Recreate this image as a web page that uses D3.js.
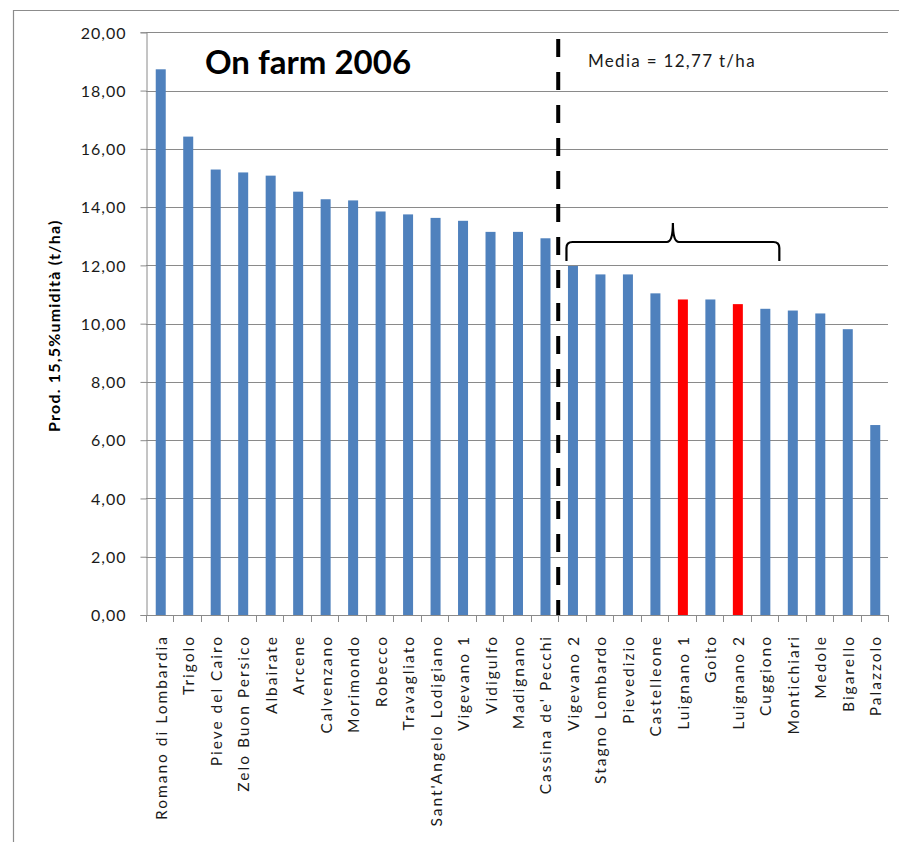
<!DOCTYPE html>
<html><head><meta charset="utf-8">
<script src="https://cdn.jsdelivr.net/npm/d3@7"></script>
<style>body{margin:0;background:#fff}svg{display:block}</style>
</head><body>
<script>
const categories = ["Romano di Lombardia","Trigolo","Pieve del Cairo","Zelo Buon Persico","Albairate","Arcene","Calvenzano","Morimondo","Robecco","Travagliato","Sant'Angelo Lodigiano","Vigevano 1","Vidigulfo","Madignano","Cassina de' Pecchi","Vigevano 2","Stagno Lombardo","Pievedizio","Castelleone","Luignano 1","Goito","Luignano 2","Cuggiono","Montichiari","Medole","Bigarello","Palazzolo"];
const values = [18.73,16.42,15.29,15.19,15.08,14.53,14.27,14.23,13.85,13.75,13.63,13.53,13.15,13.15,12.93,11.98,11.69,11.69,11.04,10.83,10.83,10.67,10.51,10.45,10.35,9.81,6.52];
const highlighted = ["Luignano 1","Luignano 2"];
const yTicks = [0,2,4,6,8,10,12,14,16,18,20];
const title = "On farm 2006";
const meanLabel = "Media = 12,77 t/ha";
const yLabel = "Prod. 15,5%umidità (t/ha)";
const splitAfter = "Cassina de' Pecchi";
const braceFrom = "Vigevano 2", braceTo = "Cuggiono";

const W = 899, H = 842;
const L = 146, R = 888, T = 32.3, B = 615;
const font = "Lato, 'Open Sans', sans-serif";
const svg = d3.select("body").append("svg").attr("width", W).attr("height", H);

// outer frame
svg.append("path").attr("d", `M13.5,${H} V10.5 H${W}`).attr("fill","none").attr("stroke","#8c8c8c").attr("stroke-width",1.2);

const x = d3.scaleBand().domain(categories).range([L, R]).paddingInner(0.636).paddingOuter(0.318);
const xb = d3.scaleBand().domain(categories).range([L, R]);
const y = d3.scaleLinear().domain([0, 20]).range([B, T]);

// gridlines
svg.append("g").selectAll("line").data(yTicks.filter(d=>d>0)).join("line")
  .attr("x1", L).attr("x2", R).attr("y1", d=>Math.round(y(d))+0.5).attr("y2", d=>Math.round(y(d))+0.5)
  .attr("stroke","#8a8a8a").attr("stroke-width",1);

// bars
svg.append("g").selectAll("rect").data(categories).join("rect")
  .attr("x", d=>x(d)+1).attr("width", x.bandwidth())
  .attr("y", (d,i)=>y(values[i])).attr("height", (d,i)=>B - y(values[i]))
  .attr("fill", d=>highlighted.includes(d) ? "#ff0000" : "#4f81bd");

// y axis
const yAxis = d3.axisLeft(y).tickValues(yTicks).tickSize(6).tickPadding(14)
  .tickFormat(d=>d3.format(".2f")(d).replace(".", ","));
const gy = svg.append("g").attr("transform", `translate(${L+0.5},0)`).call(yAxis);
gy.select(".domain").attr("stroke","#8a8a8a");
gy.selectAll(".tick line").attr("stroke","#8a8a8a");
gy.selectAll(".tick text").attr("font-family", font).attr("font-size", 16).attr("letter-spacing", 1)
  .attr("fill","#1a1a1a").attr("dy","0.36em");

// x axis baseline + ticks at band boundaries
svg.append("line").attr("x1", L).attr("x2", R).attr("y1", B+0.5).attr("y2", B+0.5).attr("stroke","#8a8a8a");
svg.append("g").selectAll("line").data(categories.concat(["__end"])).join("line")
  .attr("x1", (d,i)=> i<categories.length ? Math.round(xb(d))+0.5 : R+0.5)
  .attr("x2", (d,i)=> i<categories.length ? Math.round(xb(d))+0.5 : R+0.5)
  .attr("y1", B).attr("y2", B+7).attr("stroke","#8a8a8a");

// x labels
svg.append("g").selectAll("text").data(categories).join("text")
  .attr("transform", d=>`translate(${x(d)+x.bandwidth()/2+7},${B+20}) rotate(-90)`)
  .attr("text-anchor","end").attr("font-family", font).attr("font-size", 15.5).attr("letter-spacing", 2)
  .attr("fill","#1a1a1a")
  .text(d=>d);

// y label
svg.append("text").attr("transform", `translate(60,${(T+B)/2+2}) rotate(-90)`)
  .attr("text-anchor","middle").attr("font-family", font).attr("font-weight","bold").attr("font-size",16)
  .attr("letter-spacing", 1.2).attr("fill","#000")
  .text(yLabel);

// dashed separator
const sx = xb(splitAfter) + xb.bandwidth();
svg.append("line").attr("x1", sx).attr("x2", sx).attr("y1", 39).attr("y2", B)
  .attr("stroke","#000").attr("stroke-width",4).attr("stroke-dasharray","18 15");

// title & mean text
svg.append("text").attr("x", 308).attr("y", 74).attr("text-anchor","middle")
  .attr("font-family", font).attr("font-weight","bold").attr("font-size",33).attr("fill","#000").text(title);
svg.append("text").attr("x", 588).attr("y", 67).attr("font-family", font).attr("font-size",17)
  .attr("letter-spacing", 1.3).attr("fill","#1a1a1a").text(meanLabel);

// brace
const bx0 = x(braceFrom) - 0.5, bx1 = x(braceTo) + x.bandwidth() + 10;
const by = 242, bEnd = 261, bTip = 223, bm = (bx0+bx1)/2;
svg.append("path")
  .attr("d", `M${bx0},${bEnd} V${by+6} Q${bx0},${by} ${bx0+6},${by} H${bm-6} Q${bm},${by} ${bm},${bTip} Q${bm},${by} ${bm+6},${by} H${bx1-6} Q${bx1},${by} ${bx1},${by+6} V${bEnd}`)
  .attr("fill","none").attr("stroke","#000").attr("stroke-width",2.2);
</script>
</body></html>
